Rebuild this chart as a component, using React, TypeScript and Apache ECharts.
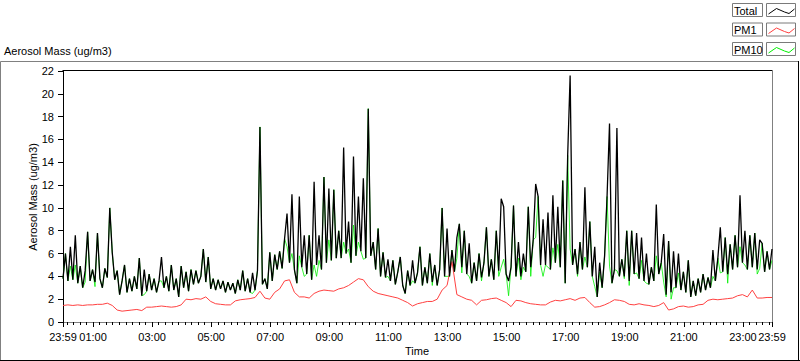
import React, { useEffect, useRef } from "react";
import * as echarts from "echarts";

// minutes after 23:59 (start of record); Total and PM10 every 5 min, PM1 every 10 min
const STEP_TOTAL = 5;
const STEP_PM1 = 10;

const TOTAL = [
  3.8, 6.0, 3.6, 6.6, 3.7, 7.6, 3.4, 4.9, 3.0, 4.5, 7.9, 3.6, 4.6, 3.5, 7.8, 3.8,
  3.0, 4.7, 3.9, 10.0, 6.1, 3.7, 4.5, 2.4, 3.6, 5.0, 2.6, 3.8, 2.7, 4.0, 2.9, 5.6,
  2.3, 4.6, 2.7, 4.2, 2.8, 3.8, 2.6, 3.6, 5.7, 3.0, 4.0, 2.7, 5.0, 2.8, 3.8, 2.2,
  4.9, 3.0, 4.4, 2.7, 4.6, 3.3, 4.5, 3.4, 4.0, 6.4, 3.5, 5.7, 2.9, 3.8, 2.8, 3.7,
  2.9, 3.6, 2.6, 3.5, 2.8, 3.4, 2.5, 3.7, 2.8, 4.5, 2.7, 3.8, 2.6, 4.3, 2.8, 4.5,
  17.1, 3.3, 3.8, 2.9, 6.1, 3.6, 5.9, 4.6, 6.2, 4.7, 7.3, 9.5, 5.2, 11.2, 4.6, 3.4,
  11.0, 4.8, 7.6, 4.2, 7.6, 3.7, 12.3, 5.0, 7.6, 4.6, 12.7, 5.2, 11.7, 5.4, 11.6, 5.6,
  8.0, 5.6, 15.3, 6.0, 8.8, 5.2, 14.5, 5.8, 11.0, 6.2, 12.6, 5.6, 18.7, 5.8, 7.0, 4.6,
  8.2, 4.0, 6.1, 3.9, 5.5, 3.6, 5.4, 3.3, 4.4, 5.7, 3.2, 2.5, 4.5, 3.2, 5.4, 3.4,
  4.3, 6.6, 3.2, 4.8, 3.4, 6.0, 3.5, 5.0, 3.2, 4.6, 10.0, 4.0, 8.2, 4.0, 6.3, 4.4,
  7.4, 8.6, 4.8, 8.0, 4.2, 6.9, 3.4, 5.2, 3.6, 6.0, 3.9, 5.2, 8.3, 4.0, 5.5, 3.7,
  8.0, 4.5, 10.8, 10.1, 4.2, 3.6, 4.8, 10.2, 4.0, 7.0, 4.0, 6.0, 4.4, 10.1, 4.8, 7.2,
  12.1, 11.0, 5.0, 9.0, 5.0, 9.6, 4.6, 11.1, 5.2, 10.1, 4.8, 12.4, 3.4, 14.6, 21.6, 5.0,
  6.4, 4.2, 7.0, 4.6, 11.8, 4.8, 8.8, 4.0, 6.6, 2.2, 5.2, 3.0, 5.8, 11.0, 17.4, 3.4,
  4.6, 17.0, 4.0, 5.5, 4.0, 8.0, 3.6, 8.0, 4.2, 7.8, 3.8, 7.4, 3.6, 6.0, 3.3, 4.8,
  3.6, 10.3, 4.2, 5.2, 7.7, 2.4, 7.1, 2.6, 6.2, 3.0, 6.0, 2.8, 4.4, 2.6, 5.4, 2.2,
  3.6, 2.3, 3.8, 2.6, 4.2, 2.8, 3.9, 3.0, 6.3, 3.6, 5.6, 8.3, 4.4, 7.4, 4.2, 6.8,
  4.6, 7.6, 4.8, 11.1, 5.2, 8.0, 4.6, 7.6, 4.8, 7.8, 4.6, 7.2, 6.9, 4.4, 6.2, 4.6,
  6.4,
];

const PM10 = [
  3.8, 6.0, 3.6, 4.9, 3.7, 5.0, 3.4, 4.9, 3.0, 3.5, 7.9, 3.6, 4.6, 3.1, 7.8, 3.8,
  3.0, 4.7, 3.9, 10.0, 6.1, 3.7, 4.5, 2.4, 3.6, 5.0, 2.6, 3.8, 2.7, 4.0, 2.9, 5.6,
  2.3, 2.4, 2.7, 4.2, 2.8, 3.8, 2.6, 3.6, 3.6, 3.0, 4.0, 2.7, 5.0, 2.8, 3.8, 2.2,
  4.9, 3.0, 4.4, 2.7, 4.6, 3.3, 4.5, 3.4, 4.0, 6.4, 3.5, 5.7, 2.9, 3.8, 2.8, 3.7,
  2.9, 3.6, 2.6, 3.5, 2.8, 3.4, 2.5, 3.7, 2.8, 4.5, 2.7, 3.8, 2.6, 2.5, 2.8, 4.5,
  17.1, 3.3, 3.8, 2.9, 6.1, 3.6, 5.9, 4.6, 6.2, 4.7, 7.3, 6.6, 5.2, 6.0, 4.6, 3.4,
  5.8, 4.8, 4.0, 4.2, 7.6, 3.7, 5.0, 4.0, 5.4, 4.6, 12.7, 5.2, 7.2, 5.4, 11.6, 5.6,
  8.0, 5.6, 7.0, 6.0, 6.4, 5.2, 8.5, 5.8, 7.0, 6.2, 5.5, 5.6, 18.7, 5.8, 7.0, 4.6,
  8.2, 4.0, 6.1, 3.9, 4.0, 3.6, 5.4, 3.3, 4.4, 5.7, 3.2, 2.5, 4.5, 3.2, 3.6, 3.4,
  4.3, 6.6, 3.2, 4.8, 3.4, 6.0, 3.2, 5.0, 3.2, 4.6, 10.0, 4.0, 4.0, 4.0, 6.3, 4.4,
  5.6, 8.6, 4.3, 8.0, 4.2, 4.0, 3.4, 5.2, 3.6, 6.0, 3.6, 5.2, 8.3, 4.0, 5.5, 3.7,
  8.0, 4.0, 4.8, 5.5, 4.2, 2.3, 4.8, 10.2, 4.0, 5.6, 3.7, 4.8, 4.4, 10.1, 4.0, 7.2,
  7.4, 11.0, 5.0, 4.0, 5.0, 4.8, 4.6, 6.5, 5.2, 6.8, 4.8, 12.4, 3.4, 14.6, 6.4, 5.0,
  6.4, 4.0, 7.0, 4.6, 5.7, 4.8, 8.8, 4.0, 3.1, 2.2, 4.4, 3.0, 5.8, 11.0, 4.9, 3.4,
  4.6, 4.5, 4.0, 5.5, 3.8, 8.0, 3.2, 8.0, 4.2, 4.3, 3.8, 5.4, 3.6, 3.4, 3.3, 4.8,
  3.6, 5.8, 4.2, 5.2, 3.5, 2.2, 7.1, 2.0, 3.0, 3.0, 4.3, 2.8, 4.4, 2.6, 5.4, 2.2,
  3.6, 2.3, 3.8, 2.6, 4.2, 2.8, 3.9, 3.0, 4.0, 3.6, 5.6, 4.3, 4.4, 7.4, 3.4, 6.8,
  4.6, 7.6, 4.8, 6.6, 5.2, 5.0, 4.6, 7.6, 4.8, 7.8, 4.2, 4.7, 6.9, 4.4, 6.2, 4.6,
  5.4,
];

const PM1 = [
  1.45, 1.5, 1.45, 1.5, 1.45, 1.5, 1.5, 1.55, 1.55, 1.65, 1.45, 1.05, 0.95, 1.0, 1.05, 1.1,
  1.0, 1.3, 1.3, 1.35, 1.4, 1.35, 1.3, 1.35, 1.5, 2.0, 1.95, 2.05, 2.0, 2.2, 1.8, 1.6,
  1.55, 1.5, 1.5, 1.85, 1.95, 2.0, 2.05, 2.15, 2.7, 2.1, 2.0, 2.6, 2.9, 3.6, 3.7, 2.6,
  2.2, 2.2, 2.1, 2.5, 2.7, 2.8, 2.75, 2.7, 2.9, 3.0, 3.2, 3.5, 3.8, 3.7, 3.1, 2.7,
  2.5, 2.4, 2.3, 2.2, 2.1, 1.9, 1.7, 1.4, 1.6, 1.7, 1.8, 1.8, 2.0, 2.8, 3.2, 5.3,
  2.4, 2.2, 2.0, 1.9, 1.5, 1.9, 1.95, 2.05, 2.1, 1.9, 1.7, 1.35, 1.9, 1.85, 1.7, 1.6,
  1.55, 1.5, 1.5, 1.75, 1.9, 1.85, 1.95, 2.05, 1.9, 2.1, 2.15, 1.7, 1.3, 1.35, 1.5, 1.7,
  1.95, 1.9, 1.8, 1.55, 1.5, 1.6, 1.5, 1.45, 1.35, 1.45, 1.7, 1.05, 1.15, 1.35, 1.4, 1.3,
  1.35, 1.5, 1.55, 1.9, 2.0, 1.95, 2.0, 2.05, 2.1, 2.3, 2.4, 2.2, 2.8, 2.1, 2.1, 2.15,
  2.15,
];

const X_LABEL_MINUTES = [0, 61, 181, 301, 421, 541, 661, 781, 901, 1021, 1141, 1261, 1381, 1440];
const X_MINOR_STEP = 120 / 9;
const Y_MIN = 0;
const Y_MAX = 22;
const Y_INTERVAL = 2;

const SERIES_NAMES = ["Total", "PM1", "PM10"];
const SERIES_COLORS = ["#000000", "#ff4040", "#00f000"];

const FONT = '"Liberation Sans", Arial, sans-serif';

function fmtTime(m: number): string {
  const t = (((23 * 60 + 59 + Math.round(m)) % 1440) + 1440) % 1440;
  const hh = Math.floor(t / 60);
  const mm = t % 60;
  return String(hh).padStart(2, "0") + ":" + String(mm).padStart(2, "0");
}

function minorTicks(): number[] {
  const out: number[] = [];
  for (let v = 61 - X_MINOR_STEP; v > 0; v -= X_MINOR_STEP) out.push(v);
  for (let v = 61; v < 1440; v += X_MINOR_STEP) out.push(Math.round(v * 100) / 100);
  return out.sort((a, b) => a - b);
}

export default function App() {
  const ref = useRef<HTMLDivElement>(null);
  useEffect(() => {
    if (!ref.current) return;
    const chart = echarts.init(ref.current, null, { renderer: "svg" });

    const totalData = TOTAL.map((v, i) => [i * STEP_TOTAL, v]);
    const pm10Data = PM10.map((v, i) => [i * STEP_TOTAL, v]);
    const pm1Data = PM1.map((v, i) => [i * STEP_PM1, v]);

    const legendRows = SERIES_NAMES.map((name, k) => {
      const y0 = 3.5 + k * 19.5;
      return [
        {
          type: "rect",
          shape: { x: 732.5, y: y0, width: 30, height: 13 },
          style: { fill: "#fff", stroke: "#7a7a7a", lineWidth: 1 },
        },
        {
          type: "text",
          x: 734,
          y: y0 + 7,
          style: { text: name, fill: "#000", font: "11px " + FONT, verticalAlign: "middle", align: "left" },
        },
        {
          type: "rect",
          shape: { x: 766.5, y: y0, width: 29, height: 13 },
          style: { fill: "#fff", stroke: "#7a7a7a", lineWidth: 1 },
        },
        {
          type: "polyline",
          shape: {
            points: [
              [768.5, y0 + 10.5],
              [776.5, y0 + 5],
              [784.5, y0 + 8.5],
              [789, y0 + 10],
              [794.5, y0 + 5.5],
            ],
          },
          style: { stroke: SERIES_COLORS[k], lineWidth: 1, fill: "none" },
        },
      ];
    }).flat();

    chart.setOption({
      animation: false,
      backgroundColor: "#ffffff",
      grid: { left: 63, top: 71, width: 709, height: 251, containLabel: false },
      xAxis: [
        {
          type: "value",
          min: 0,
          max: 1440,
          axisLine: { show: true, onZero: false, lineStyle: { color: "#808080", width: 1 } },
          axisTick: {
            show: true,
            length: 5,
            customValues: X_LABEL_MINUTES,
            lineStyle: { color: "#000" },
          },
          axisLabel: {
            show: true,
            customValues: X_LABEL_MINUTES,
            formatter: (v: number) => fmtTime(v),
            color: "#000",
            fontFamily: FONT,
            fontSize: 11,
            margin: 9,
            showMinLabel: true,
            showMaxLabel: true,
          },
          splitLine: { show: false },
        },
        {
          type: "value",
          min: 0,
          max: 1440,
          position: "bottom",
          axisLine: { show: false },
          axisTick: { show: true, length: 3, customValues: minorTicks(), lineStyle: { color: "#000" } },
          axisLabel: { show: false },
          splitLine: { show: false },
        },
      ],
      yAxis: {
        type: "value",
        min: Y_MIN,
        max: Y_MAX,
        interval: Y_INTERVAL,
        axisLine: { show: true, lineStyle: { color: "#000", width: 1 } },
        axisTick: { show: true, length: 5, lineStyle: { color: "#000" } },
        axisLabel: { color: "#000", fontFamily: FONT, fontSize: 11, margin: 9 },
        splitLine: { show: false },
      },
      series: [
        {
          name: "PM10",
          type: "line",
          data: pm10Data,
          showSymbol: false,
          lineStyle: { color: SERIES_COLORS[2], width: 0.8 },
          itemStyle: { color: SERIES_COLORS[2] },
          z: 2,
        },
        {
          name: "PM1",
          type: "line",
          data: pm1Data,
          showSymbol: false,
          lineStyle: { color: SERIES_COLORS[1], width: 1 },
          itemStyle: { color: SERIES_COLORS[1] },
          z: 3,
        },
        {
          name: "Total",
          type: "line",
          data: totalData,
          showSymbol: false,
          lineStyle: { color: SERIES_COLORS[0], width: 1.3 },
          itemStyle: { color: SERIES_COLORS[0] },
          z: 4,
        },
      ],
      graphic: [
        // outer frame
        { type: "line", shape: { x1: 0.5, y1: 61.5, x2: 798.5, y2: 61.5 }, style: { stroke: "#808080", lineWidth: 1 } },
        { type: "line", shape: { x1: 0.5, y1: 61.5, x2: 0.5, y2: 360.5 }, style: { stroke: "#808080", lineWidth: 1 } },
        { type: "line", shape: { x1: 0, y1: 360.5, x2: 800, y2: 360.5 }, style: { stroke: "#000", lineWidth: 1 } },
        { type: "line", shape: { x1: 798.5, y1: 61, x2: 798.5, y2: 361 }, style: { stroke: "#000", lineWidth: 1 } },
        // plot frame top / right
        { type: "line", shape: { x1: 62.5, y1: 70.5, x2: 772.5, y2: 70.5 }, style: { stroke: "#000", lineWidth: 1 } },
        { type: "line", shape: { x1: 772.5, y1: 70.5, x2: 772.5, y2: 322.5 }, style: { stroke: "#808080", lineWidth: 1 } },
        // titles
        {
          type: "text",
          x: 4,
          y: 51,
          style: { text: "Aerosol Mass (ug/m3)", fill: "#000", font: "11px " + FONT, verticalAlign: "middle", align: "left" },
        },
        {
          type: "text",
          x: 33,
          y: 197,
          rotation: Math.PI / 2,
          style: { text: "Aerosol Mass (ug/m3)", fill: "#000", font: "11px " + FONT, verticalAlign: "middle", align: "center" },
        },
        {
          type: "text",
          x: 417,
          y: 351,
          style: { text: "Time", fill: "#000", font: "11px " + FONT, verticalAlign: "middle", align: "center" },
        },
        ...legendRows,
      ],
    });
    return () => chart.dispose();
  }, []);
  return <div ref={ref} style={{ position: "fixed", left: 0, top: 0, width: 800, height: 361 }} />;
}
